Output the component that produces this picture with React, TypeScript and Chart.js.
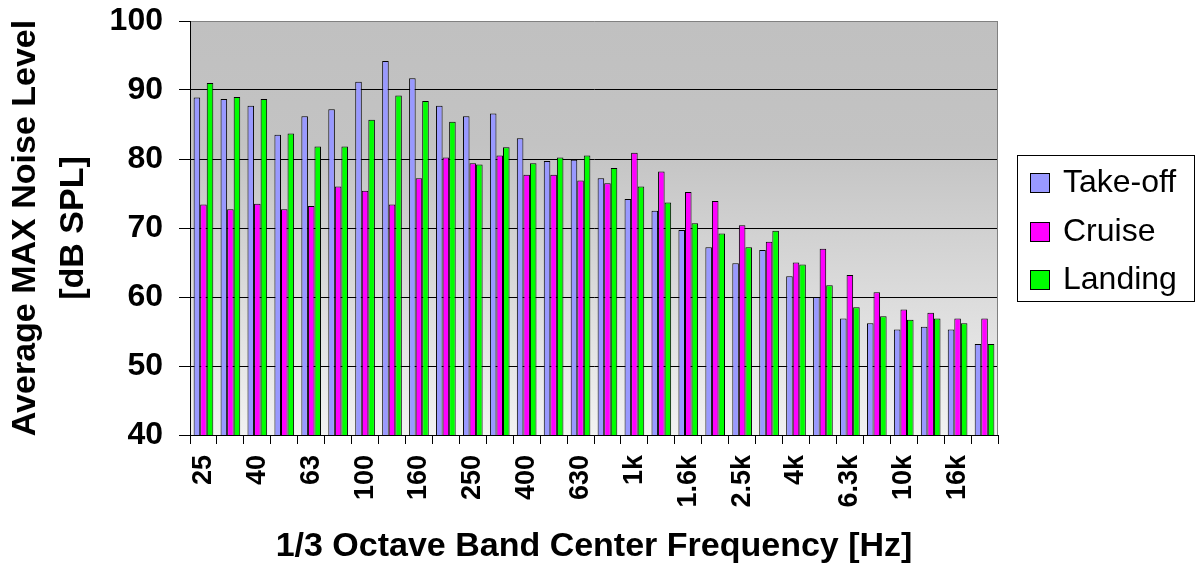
import { useEffect, useRef } from 'react';
import { Chart, registerables } from 'chart.js';

Chart.register(...registerables);

// 1/3-octave band centre frequencies
const bands = [
  '25', '31.5', '40', '50', '63', '80', '100', '125', '160', '200',
  '250', '315', '400', '500', '630', '800', '1k', '1.25k', '1.6k', '2k',
  '2.5k', '3.15k', '4k', '5k', '6.3k', '8k', '10k', '12.5k', '16k', '20k',
];

// Average maximum noise level per band, dB SPL
const takeOff = [
  88.9, 88.7, 87.7, 83.5, 86.2, 87.2, 91.2, 94.2, 91.7, 87.7,
  86.2, 86.6, 83.0, 79.7, 79.9, 77.2, 74.2, 72.5, 69.7, 67.2,
  64.9, 66.8, 63.0, 60.0, 56.9, 56.2, 55.3, 55.7, 55.3, 53.2,
];
const cruise = [
  73.4, 72.7, 73.5, 72.7, 73.2, 76.0, 75.4, 73.4, 77.2, 80.2,
  79.4, 80.5, 77.7, 77.7, 76.9, 76.5, 80.9, 78.2, 75.2, 73.9,
  70.4, 68.0, 65.0, 67.0, 63.2, 60.7, 58.2, 57.7, 56.9, 56.9,
];
const landing = [
  91.0, 89.0, 88.7, 83.7, 81.8, 81.8, 85.7, 89.2, 88.4, 85.4,
  79.2, 81.7, 79.4, 80.2, 80.5, 78.7, 76.0, 73.7, 70.7, 69.2,
  67.2, 69.6, 64.7, 61.7, 58.5, 57.2, 56.7, 56.9, 56.2, 53.2,
];

const yTicks = [40, 50, 60, 70, 80, 90, 100];

const seriesNames = ['Take-off', 'Cruise', 'Landing'];
const seriesColors = ['#9999ff', '#ff00ff', '#00ff00'];

const FONT = '"Liberation Sans", Arial, Helvetica, sans-serif';

// Gray-to-light vertical gradient behind the plot, plus the gray right edge
const plotBackground = {
  id: 'plotBackground',
  beforeDraw(chart: any) {
    const { ctx, chartArea: a } = chart;
    const g = ctx.createLinearGradient(0, a.top, 0, a.bottom);
    g.addColorStop(0, '#c0c0c0');
    g.addColorStop(0.3, '#c3c3c3');
    g.addColorStop(1, '#f2f2f2');
    ctx.save();
    ctx.fillStyle = g;
    ctx.fillRect(a.left, a.top, a.right - a.left, a.bottom - a.top);
    ctx.restore();
  },
  afterDatasetsDraw(chart: any) {
    const { ctx, chartArea: a } = chart;
    ctx.save();
    ctx.strokeStyle = '#808080';
    ctx.lineWidth = 1;
    ctx.beginPath();
    ctx.moveTo(Math.round(a.right) - 0.5, a.top);
    ctx.lineTo(Math.round(a.right) - 0.5, a.bottom);
    ctx.stroke();
    ctx.restore();
  },
};

// Framed legend drawn to the right of the plot
const boxedLegend = {
  id: 'boxedLegend',
  afterDraw(chart: any, _args: any, opts: any) {
    const { ctx } = chart;
    const { left, top, width, height, swatchX, swatch, textX, rowY } = opts;
    ctx.save();
    ctx.fillStyle = '#ffffff';
    ctx.fillRect(left, top, width, height);
    ctx.strokeStyle = '#000000';
    ctx.lineWidth = 1;
    ctx.strokeRect(left + 0.5, top + 0.5, width - 1, height - 1);
    ctx.font = `32px ${FONT}`;
    ctx.textBaseline = 'middle';
    ctx.textAlign = 'left';
    chart.data.datasets.forEach((ds: any, i: number) => {
      const y = rowY[i];
      ctx.fillStyle = ds.backgroundColor;
      ctx.fillRect(swatchX, y - swatch / 2, swatch, swatch);
      ctx.strokeStyle = '#000000';
      ctx.strokeRect(swatchX + 0.5, y - swatch / 2 + 0.5, swatch - 1, swatch - 1);
      ctx.fillStyle = '#000000';
      ctx.fillText(ds.label, textX, y);
    });
    ctx.restore();
  },
};

export default function App() {
  const canvasRef = useRef<HTMLCanvasElement | null>(null);

  useEffect(() => {
    const canvas = canvasRef.current;
    if (!canvas) return;
    Chart.defaults.font.family = FONT;
    Chart.defaults.color = '#000000';

    const values = [takeOff, cruise, landing];
    const chart = new Chart(canvas, {
      type: 'bar',
      data: {
        labels: bands,
        datasets: seriesNames.map((name, i) => ({
          label: name,
          data: values[i],
          backgroundColor: seriesColors[i],
          borderColor: '#000000',
          borderWidth: 1,
          categoryPercentage: 0.73,
          barPercentage: 1.0,
        })),
      },
      options: {
        responsive: false,
        animation: false,
        layout: { padding: { top: 21, right: 206, left: 0, bottom: 0 } },
        plugins: {
          legend: { display: false },
          tooltip: { enabled: false },
          boxedLegend: {
            left: 1017,
            top: 155,
            width: 178,
            height: 147,
            swatchX: 1030,
            swatch: 20,
            textX: 1063,
            rowY: [183, 232, 280],
          },
        } as any,
        scales: {
          x: {
            grid: {
              offset: true,
              drawOnChartArea: false,
              drawTicks: true,
              tickLength: 9,
              color: '#000000',
            },
            border: { display: true, color: '#000000', width: 1 },
            ticks: {
              autoSkip: false,
              minRotation: 90,
              maxRotation: 90,
              padding: 11,
              color: '#000000',
              font: { size: 27, weight: 'bold' },
              callback: (_v: any, i: number) => (i % 2 === 0 ? bands[i] : ''),
            },
            title: {
              display: true,
              text: '1/3 Octave Band Center Frequency [Hz]',
              color: '#000000',
              font: { size: 34, weight: 'bold' },
              padding: { top: 0, bottom: 0 },
            },
            afterFit: (s: any) => {
              s.height = 132;
              s.paddingLeft = 0;
              s.paddingRight = 0;
            },
          },
          y: {
            min: 40,
            max: 100,
            grid: {
              color: (c: any) => (c.tick && c.tick.value === 100 ? '#808080' : '#000000'),
              tickColor: '#000000',
              tickLength: 11,
              lineWidth: 1,
            },
            border: { display: true, color: '#000000', width: 1 },
            afterBuildTicks: (s: any) => {
              s.ticks = yTicks.map((v) => ({ value: v }));
            },
            ticks: {
              padding: 16,
              color: '#000000',
              font: { size: 32, weight: 'bold' },
            },
            title: {
              display: true,
              text: ['Average MAX Noise Level', '[dB SPL]'],
              color: '#000000',
              font: { size: 34, weight: 'bold', lineHeight: 1.41 },
              padding: { top: 2, bottom: 0 },
            },
            afterFit: (s: any) => {
              s.width = 190;
              s.paddingTop = 0;
              s.paddingBottom = 0;
            },
          },
        },
      },
      plugins: [plotBackground, boxedLegend],
    });

    return () => chart.destroy();
  }, []);

  return (
    <div style={{ position: 'fixed', left: 0, top: 0, width: 1204, height: 567, background: '#ffffff' }}>
      <canvas ref={canvasRef} width={1204} height={567} style={{ display: 'block' }} />
    </div>
  );
}
